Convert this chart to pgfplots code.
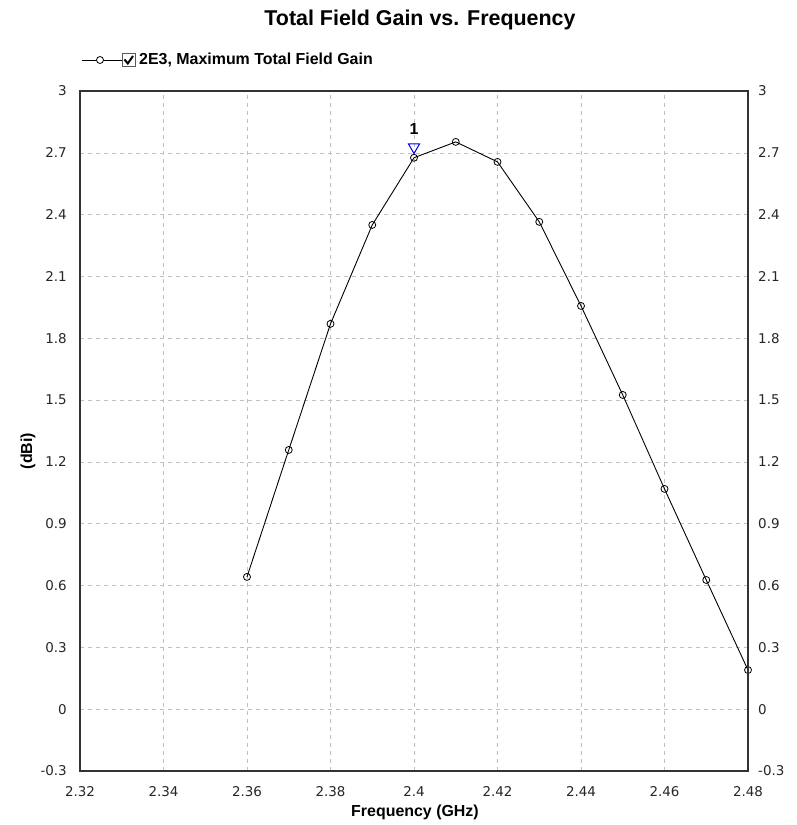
\documentclass[border=0pt]{standalone}
\usepackage{pgfplots}
\pgfplotsset{compat=1.18}
\usetikzlibrary{calc}
\usepackage{fontspec}
\setmainfont{Liberation Sans}
\newfontfamily\dv{DejaVu Sans}
\begin{document}
\begin{tikzpicture}
\pgfplotsset{
  common/.style={
    scale only axis, width=668bp, height=680bp,
    xmin=2.32, xmax=2.48, ymin=-0.3, ymax=3,
    xtick={2.32,2.34,2.36,2.38,2.40,2.42,2.44,2.46,2.48},
    ytick={-0.3,0,0.3,0.6,0.9,1.2,1.5,1.8,2.1,2.4,2.7,3},
    major tick length=0pt,
    /pgf/number format/assume math mode=true,
    ticklabel style={font=\dv\fontsize{13.5}{15}\selectfont, text=black!85, inner sep=0pt},
    axis line style={black!80, line width=1.3pt},
  }
}
\begin{axis}[common,
  at={(0,0)}, anchor=south west,
  grid=major,
  major grid style={gray!50, dash pattern=on 4bp off 4bp, line width=0.6pt},
  yticklabel style={anchor=east, xshift=-13bp},
  xticklabel style={anchor=center, yshift=-21bp},
  clip=false,
]
\addplot[black, line width=0.9pt, mark=o, mark size=3.5bp, mark options={line width=0.8pt, fill=white}] coordinates {
(2.36,0.642) (2.37,1.258) (2.38,1.870) (2.39,2.350) (2.40,2.676) (2.41,2.753)
(2.42,2.656) (2.43,2.365) (2.44,1.957) (2.45,1.525) (2.46,1.069) (2.47,0.627) (2.48,0.190)
};
\addplot[only marks, blue, mark=triangle, mark size=6.5bp, mark options={rotate=180, line width=1pt, fill=white, fill opacity=0.6}] coordinates {(2.40,2.728)};
\node[font=\bfseries\fontsize{16}{18}\selectfont, anchor=center] at (axis cs:2.40,2.815) {1};
% axis labels and title
\coordinate (TL) at (axis description cs:0,1);
\coordinate (BL) at (axis description cs:0,0);
\node[font=\bfseries\fontsize{21.5}{24}\selectfont, anchor=center] at ($(TL)+(340bp,71bp)$) {Total Field Gain vs. Frequency};
\node[font=\bfseries\fontsize{16}{18}\selectfont, anchor=center] at ($(BL)+(335bp,-41bp)$) {Frequency (GHz)};
\node[font=\bfseries\fontsize{16}{18}\selectfont, anchor=center, rotate=90] at ($(BL)+(-52bp,320bp)$) {(dBi)};
% legend
\draw[black, line width=0.9pt] ($(TL)+(2bp,31bp)$) -- ($(TL)+(42bp,31bp)$);
\draw[black, line width=0.8pt, fill=white] ($(TL)+(20bp,31bp)$) circle[radius=3.5bp];
\draw[gray!70!black, line width=0.8pt, fill=white] ($(TL)+(42bp,24.5bp)$) rectangle ($(TL)+(55bp,37.5bp)$);
\draw[black, line width=2pt] ($(TL)+(44.5bp,31.5bp)$) -- ($(TL)+(47.8bp,27.5bp)$) -- ($(TL)+(53bp,35bp)$);
\node[anchor=west, inner sep=0pt, font=\bfseries\fontsize{16}{18}\selectfont] at ($(TL)+(59bp,31bp)$) {2E3, Maximum Total Field Gain};
\end{axis}
\begin{axis}[common,
  at={(0,0)}, anchor=south west,
  axis y line*=right, hide x axis,
  yticklabel style={anchor=west, xshift=10bp},
]
\end{axis}
\pgfresetboundingbox
\useasboundingbox (-80bp,-54bp) rectangle (717bp,771bp);
\end{tikzpicture}
\end{document}
